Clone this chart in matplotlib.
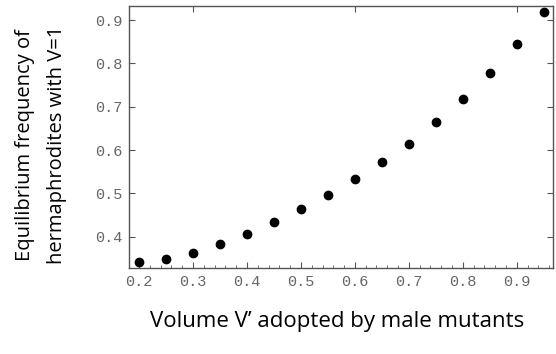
import numpy as np
import matplotlib.pyplot as plt
from matplotlib.ticker import MultipleLocator, FixedLocator

volume = [0.20, 0.25, 0.30, 0.35, 0.40, 0.45, 0.50, 0.55,
          0.60, 0.65, 0.70, 0.75, 0.80, 0.85, 0.90, 0.95]
freq = [0.341, 0.348, 0.363, 0.384, 0.407, 0.433, 0.464, 0.496,
        0.532, 0.572, 0.615, 0.664, 0.717, 0.777, 0.844, 0.918]

x_ticks = [0.2, 0.3, 0.4, 0.5, 0.6, 0.7, 0.8, 0.9]
y_ticks = [0.4, 0.5, 0.6, 0.7, 0.8, 0.9]

fig = plt.figure(figsize=(5.56, 3.54), dpi=100)
ax = fig.add_axes([129 / 556, 1 - 268 / 354, 424 / 556, 262 / 354])

ax.scatter(volume, freq, s=36, color="black", zorder=3, clip_on=False)

ax.set_xlim(0.1815, 0.967)
ax.set_ylim(0.3275, 0.9326)

frame_col = "#555555"
for sp in ax.spines.values():
    sp.set_color(frame_col)
    sp.set_linewidth(1.0)

ax.xaxis.set_major_locator(FixedLocator(x_ticks))
ax.xaxis.set_minor_locator(MultipleLocator(0.02))
ax.yaxis.set_major_locator(FixedLocator(y_ticks))
ax.set_xticklabels([f"{v:.1f}" for v in x_ticks])
ax.set_yticklabels([f"{v:.1f}" for v in y_ticks])

ax.tick_params(which="both", direction="in", color=frame_col,
               labelcolor="#666666", labelsize=11)
ax.tick_params(which="major", length=4, width=0.8, pad=5)
ax.tick_params(which="minor", length=2, width=0.6)
for lab in ax.get_xticklabels() + ax.get_yticklabels():
    lab.set_family("Liberation Mono")

# mirrored frame ticks, no labels
top = ax.secondary_xaxis("top")
top.set_xticks([0.3, 0.6, 0.9])
top.tick_params(direction="in", length=4, color=frame_col, labeltop=False)
top.spines["top"].set_visible(False)
right = ax.secondary_yaxis("right")
right.set_yticks(y_ticks)
right.tick_params(direction="in", length=4, color=frame_col, labelright=False)
right.spines["right"].set_visible(False)

fig.text(337 / 556, 1 - 322 / 354, "Volume V\u2019 adopted by male mutants",
         ha="center", va="center", fontsize=16, family="Open Sans")
ylab = ["Equilibrium frequency of", "hermaphrodites with V=1"]
for xp, line in zip([25, 57], ylab):
    fig.text(xp / 556, 1 - 145 / 354, line, ha="center", va="center",
             rotation=90, fontsize=14.5, family="Open Sans")

fig.savefig("out.png", dpi=100)
